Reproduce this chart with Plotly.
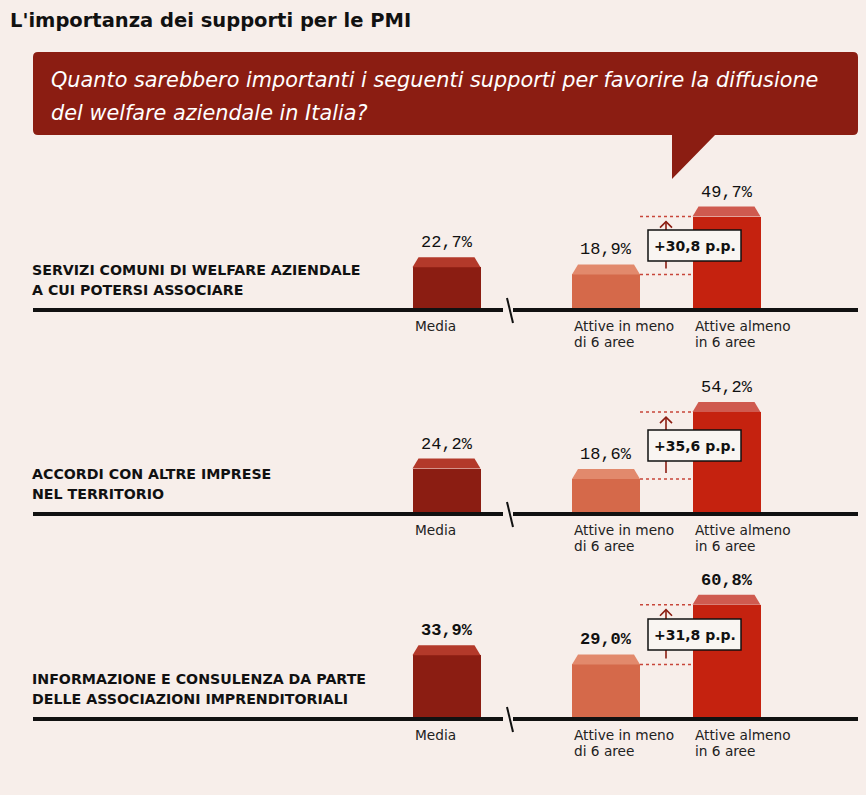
import plotly.graph_objects as go

# ---------------- data ----------------
CATEGORIES = [
    "SERVIZI COMUNI DI WELFARE AZIENDALE\nA CUI POTERSI ASSOCIARE",
    "ACCORDI CON ALTRE IMPRESE\nNEL TERRITORIO",
    "INFORMAZIONE E CONSULENZA DA PARTE\nDELLE ASSOCIAZIONI IMPRENDITORIALI",
]
GROUP_LABELS = ["Media\n", "Attive in meno\ndi 6 aree", "Attive almeno\nin 6 aree"]
MEDIA = [22.7, 24.2, 33.9]
MENO6 = [18.9, 18.6, 29.0]
ALMENO6 = [49.7, 54.2, 60.8]
TITLE = "L'importanza dei supporti per le PMI"
QUESTION = ["Quanto sarebbero importanti i seguenti supporti per favorire la diffusione",
            "del welfare aziendale in Italia?"]

# ---------------- layout / style ----------------
W, H = 866, 795
BG = "#f7eeea"
DARK = "#8b1d12"
BODY_COLORS = ["#8b1d12", "#d5694a", "#c5220f"]
CAP_COLORS = ["#b3392a", "#e2896c", "#cf5a4f"]
BAR_X = [446.5, 606, 726.5]
BAR_W = 68
PX = 1.88             # pixels per percentage point
BASE_PX = [310, 514, 719]
TOP_PAD, BOT_PAD = 150, 30
CAP_PX, CAP_IN = 10, 6
LINE_L, LINE_R, BREAK_X = 33, 858, 508
ARROW_X = 666
BOX_X0, BOX_X1, BOX_HPX = 648, 741, 31
SANS = "DejaVu Sans"
MONO = "Liberation Mono"


def px_to_paper_y(py):
    return 1 - py / H


def fmt(v):
    return f"{v:.1f}".replace(".", ",") + "%"


fig = go.Figure()
shapes = []
annotations = []

# title
annotations.append(dict(xref="paper", yref="paper", x=8 / W, y=px_to_paper_y(21),
                        xanchor="left", yanchor="middle", showarrow=False,
                        text=f"<b>{TITLE}</b>", font=dict(family=SANS, size=19.5, color="#111")))

# speech bubble
r = 5
bx0, bx1, by0, by1 = 33, 858, 52, 135
tail = [(715, 135), (672, 179), (672, 135)]
def P(x, y):
    return f"{x / W:.5f},{px_to_paper_y(y):.5f}"
path = (f"M {P(bx0 + r, by0)} L {P(bx1 - r, by0)} Q {P(bx1, by0)} {P(bx1, by0 + r)} "
        f"L {P(bx1, by1 - r)} Q {P(bx1, by1)} {P(bx1 - r, by1)} "
        f"L {P(*tail[0])} L {P(*tail[1])} L {P(*tail[2])} "
        f"L {P(bx0 + r, by1)} Q {P(bx0, by1)} {P(bx0, by1 - r)} "
        f"L {P(bx0, by0 + r)} Q {P(bx0, by0)} {P(bx0 + r, by0)} Z")
shapes.append(dict(type="path", xref="paper", yref="paper", path=path,
                   fillcolor=DARK, line=dict(width=0), layer="below"))
for i, (line, yc) in enumerate(zip(QUESTION, [80, 113])):
    annotations.append(dict(xref="paper", yref="paper", x=49 / W, y=px_to_paper_y(yc),
                            xanchor="left", yanchor="middle", showarrow=False,
                            text=f"<i>{line}</i>", font=dict(family=SANS, size=20.8, color="#ffffff")))

layout_axes = {}
for i in range(3):
    yname = "y" if i == 0 else f"y{i + 1}"
    lname = "yaxis" if i == 0 else f"yaxis{i + 1}"
    B = BASE_PX[i]
    layout_axes[lname] = dict(
        domain=[px_to_paper_y(B + BOT_PAD), px_to_paper_y(B - TOP_PAD)],
        range=[-BOT_PAD / PX, TOP_PAD / PX], visible=False, anchor="x", fixedrange=True)
    vals = [MEDIA[i], MENO6[i], ALMENO6[i]]
    fig.add_trace(go.Bar(x=BAR_X, y=vals, width=BAR_W, xaxis="x", yaxis=yname,
                         marker=dict(color=BODY_COLORS, line=dict(width=0)),
                         hoverinfo="skip", showlegend=False))
    cap = CAP_PX / PX
    for xc, v, cc in zip(BAR_X, vals, CAP_COLORS):
        x0, x1 = xc - BAR_W / 2, xc + BAR_W / 2
        shapes.append(dict(type="path", xref="x", yref=yname,
                           path=f"M {x0},{v} L {x1},{v} L {x1 - CAP_IN},{v + cap} L {x0 + CAP_IN},{v + cap} Z",
                           fillcolor=cc, line=dict(width=0)))
        annotations.append(dict(xref="x", yref=yname, x=xc, y=v, yshift=CAP_PX + 3,
                                xanchor="center", yanchor="bottom", showarrow=False,
                                text=(f"<b>{fmt(v)}</b>" if i == 2 else fmt(v)),
                                font=dict(family=MONO, size=17, color="#111")))
    # baseline with break
    shapes.append(dict(type="line", xref="x", yref=yname, x0=LINE_L, x1=BREAK_X - 5, y0=0, y1=0,
                       line=dict(color="#111", width=4)))
    shapes.append(dict(type="line", xref="x", yref=yname, x0=BREAK_X + 5, x1=LINE_R, y0=0, y1=0,
                       line=dict(color="#111", width=4)))
    shapes.append(dict(type="line", xref="x", yref=yname, x0=BREAK_X - 1, x1=BREAK_X + 5,
                       y0=12 / PX, y1=-13 / PX, line=dict(color="#111", width=2)))
    # difference annotation
    lo, hi = MENO6[i], ALMENO6[i]
    dx0 = BAR_X[1] + BAR_W / 2
    dx1 = BAR_X[2] - BAR_W / 2
    for yy in (lo, hi):
        shapes.append(dict(type="line", xref="x", yref=yname, x0=dx0, x1=dx1, y0=yy, y1=yy,
                           line=dict(color="#c8463a", width=1.5, dash="dot")))
    tip = hi - 5 / PX
    shapes.append(dict(type="line", xref="x", yref=yname, x0=ARROW_X, x1=ARROW_X,
                       y0=lo + 6 / PX, y1=tip, line=dict(color=DARK, width=1.6)))
    shapes.append(dict(type="path", xref="x", yref=yname,
                       path=f"M {ARROW_X - 6},{tip - 6 / PX} L {ARROW_X},{tip} L {ARROW_X + 6},{tip - 6 / PX}",
                       line=dict(color=DARK, width=1.6)))
    mid = (lo + hi) / 2
    hb = BOX_HPX / 2 / PX
    shapes.append(dict(type="rect", xref="x", yref=yname, x0=BOX_X0, x1=BOX_X1,
                       y0=mid - hb, y1=mid + hb, fillcolor="#f9f5f2",
                       line=dict(color="#111", width=1.5)))
    diff = f"+{hi - lo:.1f}".replace(".", ",") + " p.p."
    annotations.append(dict(xref="x", yref=yname, x=(BOX_X0 + BOX_X1) / 2, y=mid,
                            xanchor="center", yanchor="middle", showarrow=False,
                            text=f"<b>{diff}</b>", font=dict(family=SANS, size=14, color="#111")))
    # group labels below baseline
    for xc, lab in zip(BAR_X, GROUP_LABELS):
        for j, part in enumerate(lab.split("\n")):
            if not part:
                continue
            annotations.append(dict(xref="x", yref=yname, x=xc - BAR_W / 2, y=0, yshift=-16 - 16 * j,
                                    xanchor="left", yanchor="middle", showarrow=False,
                                    text=part, font=dict(family=SANS, size=13.7, color="#222")))
    # category label
    for j, part in enumerate(CATEGORIES[i].split("\n")):
        annotations.append(dict(xref="x", yref=yname, x=30, y=0, yshift=40 - 20 * j,
                                xanchor="left", yanchor="middle", showarrow=False,
                                text=f"<b>{part}</b>", font=dict(family=SANS, size=14.2, color="#111")))

fig.update_layout(
    width=W, height=H, margin=dict(l=0, r=0, t=0, b=0),
    paper_bgcolor=BG, plot_bgcolor="rgba(0,0,0,0)",
    xaxis=dict(range=[0, W], domain=[0, 1], visible=False, anchor="y", fixedrange=True),
    shapes=shapes, annotations=annotations, bargap=0,
    **layout_axes,
)
fig.write_html("out.html", config={"displayModeBar": False},
               post_script="document.body.style.margin='0px';document.body.style.background='" + BG + "';")
